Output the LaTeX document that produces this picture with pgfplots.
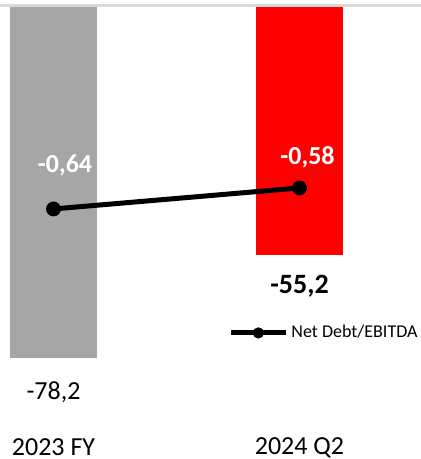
\documentclass[border=0pt]{standalone}
\usepackage{fontspec}
\setmainfont{Carlito}
\usepackage{pgfplots}
\usepackage{pgfplotstable}
\pgfplotsset{compat=1.18}
\definecolor{barA}{HTML}{A6A6A6}
\definecolor{barB}{HTML}{FF0000}
\definecolor{topline}{HTML}{D9D9D9}

% net debt (bars) and net debt / EBITDA (line)
\pgfplotstableread{
x y lab dy
0 -78.2 -78,2 -17
}\fytable
\pgfplotstableread{
x y lab dy
1 -55.2 -55,2 -15.5
}\qtable
\pgfplotstableread{
x y lab dx dy
0 -0.64 -0,64 5.75 22
1 -0.58 -0,58 4 15.5
}\ratiotable

\pgfplotsset{base/.style={
  scale only axis, width=210.5pt, height=207.2pt,
  at={(0pt,-210pt)}, anchor=south west,
  xmin=-0.2175, xmax=1.4939, clip=false}}

\begin{document}
\begin{tikzpicture}
\path[use as bounding box] (0pt,0pt) rectangle (210.5pt,-229.5pt);
\begin{axis}[base,
  ymin=-91.98, ymax=0.3,
  axis line style={draw=none}, major tick length=0pt,
  ytick=\empty, xtick={0,1}, xticklabels={2023 FY,2024 Q2},
  xticklabel style={anchor=center, yshift=-13.75pt, font=\fontsize{13}{15}\selectfont},
  ybar, bar width=43.5pt, bar shift=0pt,
  nodes near coords, point meta=explicit symbolic,
  visualization depends on={\thisrow{dy} \as \dy},
]
\addplot[fill=barA, draw=none,
  every node near coord/.style={anchor=center, yshift=\dy pt, font=\fontsize{13}{15}\selectfont}]
  table[x=x, y=y, meta=lab] {\fytable};
\addplot[fill=barB, draw=none,
  every node near coord/.style={anchor=center, yshift=\dy pt, font=\fontsize{14}{16}\selectfont\bfseries}]
  table[x=x, y=y, meta=lab] {\qtable};
% category axis line along the top
\draw[topline, line width=1.1pt] (rel axis cs:0,1) -- (rel axis cs:1,1);
\end{axis}
\begin{axis}[base,
  ymin=-1.243, ymax=-0.059, hide axis,
  legend style={at={(0.5416,0.2101)}, anchor=west, draw=none, fill=none,
    inner sep=0pt, nodes={inner sep=1.5pt}, font=\fontsize{9}{11}\selectfont},
  legend image code/.code={\draw[mark repeat=2, mark phase=2, #1, mark size=2.6pt]
    plot coordinates {(0pt,0pt) (13.75pt,0pt) (27.5pt,0pt)};},
]
\addplot[black, line width=2.5pt, mark=*, mark size=3.5pt, mark options={line width=0.4pt},
  nodes near coords, point meta=explicit symbolic,
  visualization depends on={\thisrow{dx} \as \dx},
  visualization depends on={\thisrow{dy} \as \dy},
  every node near coord/.style={anchor=center, xshift=\dx pt, yshift=\dy pt,
    text=white, font=\fontsize{13}{15}\selectfont\bfseries}]
  table[x=x, y=y, meta=lab] {\ratiotable};
\addlegendentry{Net Debt/EBITDA}
\end{axis}
\end{tikzpicture}
\end{document}
